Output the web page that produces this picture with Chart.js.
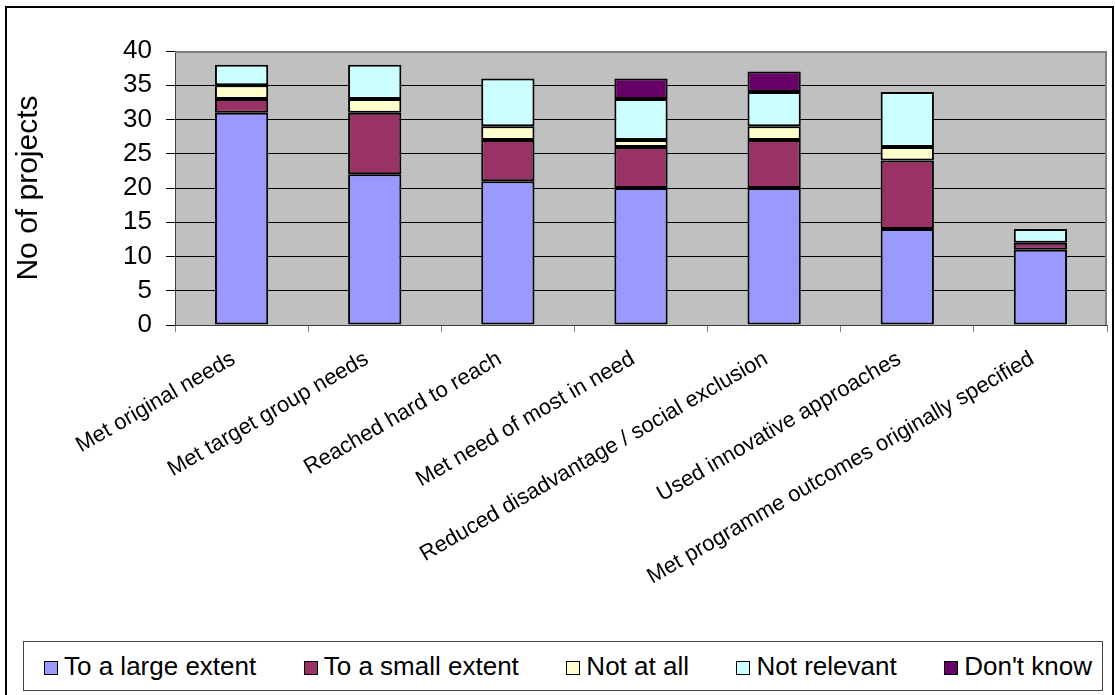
<!DOCTYPE html>
<html>
<head>
<meta charset="utf-8">
<script src="https://cdn.jsdelivr.net/npm/chart.js@4.4.1/dist/chart.umd.min.js"></script>
<style>
  body { margin: 0; background: #fff; }
  #wrap { position: relative; width: 1115px; height: 695px; overflow: hidden; font-family: 'Liberation Sans', Arial, sans-serif; }
  #frame { position: absolute; left: 5px; top: 6px; width: 1105px; height: 720px; border: 2px solid #000; pointer-events: none; }
  #legend {
    position: absolute; left: 23px; top: 641px; width: 1080px; height: 50px;
    box-sizing: border-box; border: 1px solid #444; background: #fff;
    display: flex; align-items: center; justify-content: space-between;
    padding: 0 10px 0 20px;
  }
  .item { display: flex; align-items: center; white-space: nowrap; font-size: 26px; color: #000; line-height: 1; }
  .swatch { width: 12px; height: 12px; border: 1px solid #000; margin-right: 6px; margin-top: 4px; }
</style>
</head>
<body>
<div id="wrap">
  <canvas id="chart" width="1115" height="695"></canvas>
  <div id="legend"></div>
  <div id="frame"></div>
</div>
<script>
const categories = [
    'Met original needs',
    'Met target group needs',
    'Reached hard to reach',
    'Met need of most in need',
    'Reduced disadvantage / social exclusion',
    'Used innovative approaches',
    'Met programme outcomes originally specified'
];
const seriesNames = ['To a large extent', 'To a small extent', 'Not at all', 'Not relevant', "Don't know"];
const largeExtent = [31, 22, 21, 20, 20, 14, 11];
const smallExtent = [2, 9, 6, 6, 7, 10, 1];
const notAtAll = [2, 2, 2, 1, 2, 2, null];
const notRelevant = [3, 5, 7, 6, 5, 8, 2];
const dontKnow = [null, null, null, 3, 3, null, null];
const seriesColors = ['#9999ff', '#993366', '#ffffcc', '#ccffff', '#660066'];
const yTicks = [0, 5, 10, 15, 20, 25, 30, 35, 40];

const seriesValues = [largeExtent, smallExtent, notAtAll, notRelevant, dontKnow];

Chart.defaults.font.family = "'Liberation Sans', Arial, sans-serif";
Chart.defaults.color = '#000';

// grey plot area with a thin border, like the spreadsheet original
const plotArea = {
    id: 'plotArea',
    beforeDraw(chart) {
        const { ctx, chartArea: a } = chart;
        ctx.save();
        ctx.fillStyle = '#c0c0c0';
        ctx.fillRect(a.left, a.top, a.width, a.height);
        ctx.restore();
    },
    afterDraw(chart) {
        const { ctx, chartArea: a } = chart;
        ctx.save();
        ctx.strokeStyle = '#808080';
        ctx.lineWidth = 2;
        ctx.beginPath();
        ctx.moveTo(a.left, a.top + 1);
        ctx.lineTo(a.right - 1, a.top + 1);
        ctx.lineTo(a.right - 1, a.bottom);
        ctx.stroke();
        ctx.restore();
    }
};

const ctx = document.getElementById('chart').getContext('2d');
new Chart(ctx, {
    type: 'bar',
    data: {
        labels: categories,
        datasets: seriesNames.map((name, i) => ({
            label: name,
            data: seriesValues[i],
            backgroundColor: seriesColors[i],
            borderColor: '#000',
            borderWidth: 2,
            borderSkipped: false,
            categoryPercentage: 1,
            barPercentage: 0.4
        }))
    },
    options: {
        responsive: false,
        animation: false,
        devicePixelRatio: 1,
        layout: { padding: { left: 11, right: 8, top: 51, bottom: 0 } },
        plugins: {
            legend: { display: false },
            tooltip: { enabled: false }
        },
        scales: {
            x: {
                stacked: true,
                grid: { offset: true, drawOnChartArea: false, tickLength: 7, color: '#808080' },
                border: { color: '#404040', width: 1 },
                ticks: {
                    font: { size: 22 },
                    color: '#000',
                    minRotation: 30,
                    maxRotation: 30,
                    autoSkip: false,
                    padding: 14,
                    labelOffset: -8
                },
                afterFit: s => { s.height = 370; }
            },
            y: {
                stacked: true,
                min: 0,
                max: 40,
                afterBuildTicks: s => { s.ticks = yTicks.map(v => ({ value: v })); },
                ticks: { font: { size: 26 }, color: '#000', padding: 14 },
                grid: { color: '#000', tickLength: 9 },
                border: { color: '#404040', width: 1 },
                title: { display: true, text: 'No of projects', font: { size: 30 }, color: '#000', padding: 0 },
                afterFit: s => { s.width = 164; }
            }
        }
    },
    plugins: [plotArea]
});

// boxed legend along the bottom
const legendEl = document.getElementById('legend');
legendEl.innerHTML = seriesNames.map((name, i) =>
    `<span class="item"><span class="swatch" style="background:${seriesColors[i]}"></span>${name}</span>`
).join('');
</script>
</body>
</html>
